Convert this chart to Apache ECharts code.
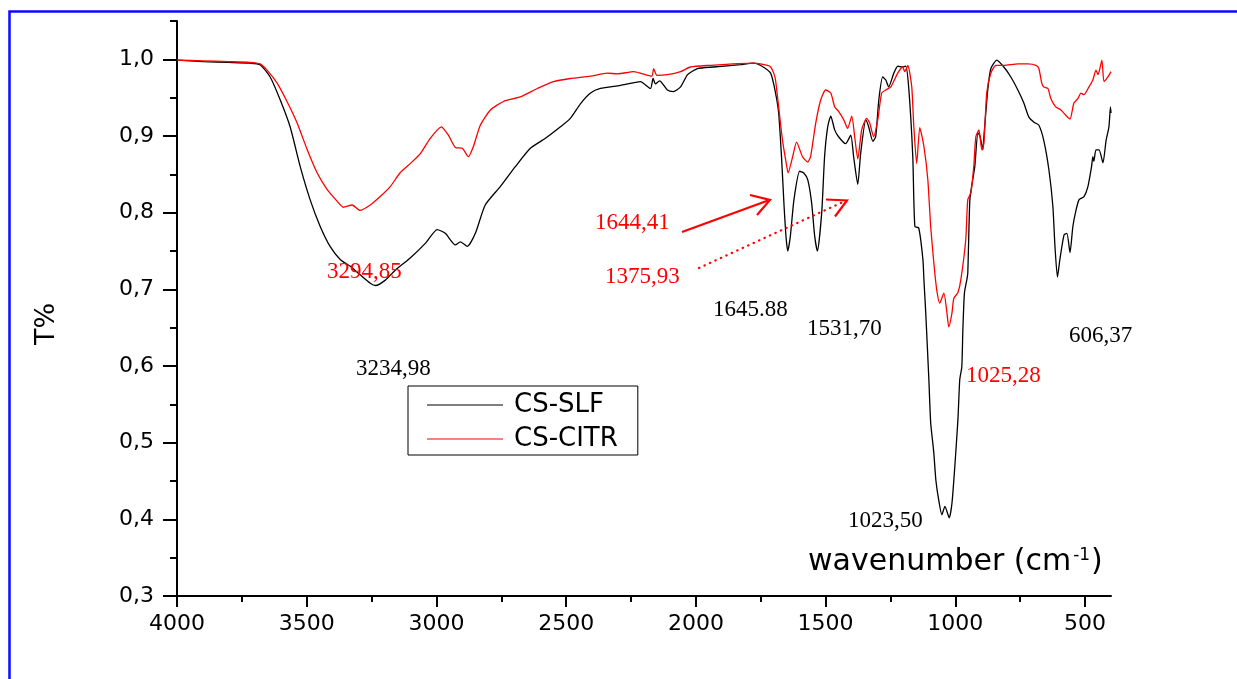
<!DOCTYPE html>
<html>
<head>
<meta charset="utf-8">
<script src="https://cdn.jsdelivr.net/npm/echarts@6/dist/echarts.min.js"></script>
<style>
  html, body { margin: 0; padding: 0; background: #fff; }
  #chart { width: 1237px; height: 679px; }
</style>
</head>
<body>
<div id="chart"></div>
<script>
// FTIR transmittance spectra, wavenumber (cm-1) vs T
const slfWavenumber = [4000, 3900, 3800, 3720, 3680, 3641, 3602, 3564, 3525, 3487, 3448, 3410, 3371, 3332, 3294, 3255, 3234.98, 3197, 3159, 3101, 3043, 2997, 2966, 2927, 2908, 2881, 2850, 2812, 2754, 2696, 2638, 2580, 2522, 2484, 2445, 2406, 2368, 2291, 2214, 2175, 2165, 2156, 2140, 2110, 2087, 2059, 2032, 1994, 1932, 1828, 1778, 1750, 1712, 1693, 1681, 1670, 1660, 1652, 1645.88, 1636, 1622, 1600, 1585, 1569, 1554, 1542, 1531.70, 1515, 1504, 1492, 1480, 1465, 1450, 1423, 1403, 1392, 1376, 1365, 1345, 1334, 1318, 1307, 1295, 1280, 1268, 1257, 1237, 1222, 1203, 1191, 1179, 1164, 1156, 1141, 1125, 1121, 1114, 1102, 1095, 1083, 1075, 1064, 1052, 1040, 1023.50, 1013, 1002, 990, 983, 975, 971, 965, 956, 952, 944, 933, 925, 913, 905, 894, 890, 875, 863, 840, 813, 786, 759, 736, 717, 697, 678, 659, 639, 624, 616, 606.37, 597, 581, 570, 558, 547, 535, 523, 504, 489, 475, 470, 466, 458, 446, 431, 419, 408, 402, 400];
const slfT = [0.999, 0.997, 0.996, 0.995, 0.993, 0.977, 0.947, 0.912, 0.860, 0.817, 0.782, 0.756, 0.739, 0.730, 0.719, 0.708, 0.705, 0.712, 0.725, 0.741, 0.760, 0.778, 0.773, 0.758, 0.762, 0.756, 0.773, 0.810, 0.834, 0.860, 0.884, 0.897, 0.912, 0.923, 0.942, 0.956, 0.962, 0.966, 0.971, 0.962, 0.975, 0.968, 0.972, 0.960, 0.958, 0.964, 0.980, 0.988, 0.990, 0.993, 0.995, 0.992, 0.982, 0.956, 0.930, 0.873, 0.808, 0.766, 0.750, 0.769, 0.817, 0.854, 0.852, 0.843, 0.813, 0.769, 0.750, 0.800, 0.873, 0.912, 0.926, 0.908, 0.899, 0.890, 0.901, 0.873, 0.837, 0.877, 0.921, 0.912, 0.893, 0.899, 0.947, 0.977, 0.973, 0.964, 0.982, 0.991, 0.990, 0.991, 0.960, 0.873, 0.782, 0.780, 0.739, 0.712, 0.669, 0.582, 0.526, 0.487, 0.451, 0.425, 0.406, 0.417, 0.402, 0.421, 0.469, 0.530, 0.582, 0.599, 0.647, 0.695, 0.712, 0.721, 0.817, 0.843, 0.860, 0.904, 0.900, 0.882, 0.899, 0.960, 0.988, 0.999, 0.990, 0.977, 0.960, 0.943, 0.925, 0.918, 0.914, 0.894, 0.855, 0.808, 0.756, 0.716, 0.739, 0.771, 0.773, 0.748, 0.782, 0.803, 0.817, 0.821, 0.834, 0.860, 0.873, 0.867, 0.882, 0.882, 0.865, 0.894, 0.912, 0.938, 0.930];

const citrWavenumber = [4000, 3900, 3800, 3720, 3680, 3653, 3614, 3576, 3537, 3498, 3460, 3421, 3383, 3359, 3325, 3294.85, 3255, 3217, 3178, 3140, 3101, 3062, 3024, 2981, 2954, 2927, 2900, 2877, 2858, 2831, 2792, 2742, 2677, 2611, 2549, 2484, 2406, 2341, 2302, 2240, 2170, 2163, 2150, 2110, 2059, 2021, 1955, 1778, 1724, 1712, 1700, 1693, 1681, 1666, 1654, 1644.41, 1627, 1612, 1589, 1569, 1558, 1538, 1519, 1500, 1480, 1465, 1450, 1430, 1415, 1399, 1388, 1375.93, 1361, 1342, 1330, 1315, 1299, 1284, 1268, 1249, 1222, 1203, 1195, 1183, 1168, 1160, 1149, 1137, 1121, 1106, 1095, 1083, 1072, 1060, 1044, 1033, 1025.28, 1013, 1006, 990, 979, 960, 952, 940, 929, 921, 909, 898, 890, 879, 863, 844, 813, 759, 720, 689, 678, 667, 659, 643, 632, 613, 593, 574, 558, 543, 527, 516, 504, 485, 470, 458, 450, 435, 427, 412, 400];
const citrT = [0.999, 0.998, 0.997, 0.996, 0.994, 0.986, 0.969, 0.945, 0.917, 0.882, 0.852, 0.830, 0.815, 0.807, 0.810, 0.803, 0.810, 0.821, 0.834, 0.852, 0.864, 0.877, 0.897, 0.912, 0.901, 0.885, 0.884, 0.873, 0.886, 0.914, 0.934, 0.945, 0.951, 0.962, 0.971, 0.975, 0.978, 0.982, 0.981, 0.984, 0.978, 0.988, 0.979, 0.980, 0.984, 0.990, 0.992, 0.995, 0.992, 0.990, 0.982, 0.973, 0.938, 0.894, 0.869, 0.852, 0.873, 0.892, 0.873, 0.866, 0.873, 0.917, 0.947, 0.960, 0.956, 0.938, 0.932, 0.921, 0.910, 0.926, 0.899, 0.870, 0.908, 0.923, 0.917, 0.899, 0.921, 0.956, 0.960, 0.964, 0.982, 0.990, 0.984, 0.992, 0.964, 0.912, 0.864, 0.911, 0.886, 0.843, 0.782, 0.735, 0.700, 0.682, 0.695, 0.671, 0.651, 0.669, 0.688, 0.696, 0.712, 0.764, 0.817, 0.826, 0.860, 0.899, 0.908, 0.882, 0.890, 0.956, 0.982, 0.992, 0.992, 0.994, 0.994, 0.992, 0.988, 0.969, 0.964, 0.962, 0.949, 0.938, 0.934, 0.927, 0.922, 0.943, 0.949, 0.956, 0.954, 0.964, 0.973, 0.986, 0.980, 0.999, 0.971, 0.977, 0.984];

// Axis ticks
const xMajorTicks = [500, 1000, 1500, 2000, 2500, 3000, 3500, 4000];
const xMinorTicks = [750, 1250, 1750, 2250, 2750, 3250, 3750];
const yMajorTicks = [0.3, 0.4, 0.5, 0.6, 0.7, 0.8, 0.9, 1.0];
const yMinorTicks = [0.35, 0.45, 0.55, 0.65, 0.75, 0.85, 0.95, 1.05];

const seriesNames = ['CS-SLF', 'CS-CITR'];

const pairs = (xs, ys) => xs.map((x, i) => [x, ys[i]]);

const SANS = '"DejaVu Sans", "Liberation Sans", sans-serif';
const SERIF = '"Liberation Serif", "Times New Roman", serif';

const chart = echarts.init(document.getElementById('chart'), null, { renderer: 'canvas' });

const xBase = { type: 'value', min: 400, max: 4000, inverse: true, position: 'bottom', splitLine: { show: false } };
const yBase = { type: 'value', min: 0.3, max: 1.05, position: 'left', splitLine: { show: false } };

function peakLabel(text, x, y, color) {
  return {
    type: 'text', x: x, y: y, z: 50,
    style: { text: text, fill: color, font: '23px ' + SERIF, textAlign: 'left', textVerticalAlign: 'middle' }
  };
}

chart.setOption({
  animation: false,
  backgroundColor: '#fff',
  grid: { left: 177, top: 21, right: 126, bottom: 83, containLabel: false },
  xAxis: [
    Object.assign({}, xBase, {
      axisLine: { show: true, lineStyle: { color: '#000', width: 2 } },
      axisTick: { show: true, length: 11, customValues: xMajorTicks, lineStyle: { color: '#000', width: 2 } },
      axisLabel: { show: true, customValues: xMajorTicks, margin: 17, color: '#000', fontFamily: SANS, fontSize: 22,
        formatter: v => String(Math.round(v)) }
    }),
    Object.assign({}, xBase, {
      axisLine: { show: false },
      axisTick: { show: true, length: 6, customValues: xMinorTicks, lineStyle: { color: '#000', width: 2 } },
      axisLabel: { show: false }
    })
  ],
  yAxis: [
    Object.assign({}, yBase, {
      axisLine: { show: true, lineStyle: { color: '#000', width: 2 } },
      axisTick: { show: true, length: 14, customValues: yMajorTicks, lineStyle: { color: '#000', width: 2 } },
      axisLabel: { show: true, customValues: yMajorTicks, margin: 23, color: '#000', fontFamily: SANS, fontSize: 22,
        formatter: v => v.toFixed(1).replace('.', ',') }
    }),
    Object.assign({}, yBase, {
      axisLine: { show: false },
      axisTick: { show: true, length: 7, customValues: yMinorTicks, lineStyle: { color: '#000', width: 2 } },
      axisLabel: { show: false }
    })
  ],
  legend: {
    data: seriesNames,
    orient: 'vertical',
    left: 408, top: 386,
    padding: [6, 20, 3, 19],
    itemGap: 8,
    icon: 'rect',
    itemWidth: 76, itemHeight: 1.2,
    borderColor: '#000', borderWidth: 1,
    textStyle: { fontFamily: SANS, fontSize: 26, color: '#000', padding: [0, 0, 0, 6] }
  },
  series: [
    {
      name: seriesNames[0], type: 'line', xAxisIndex: 0, yAxisIndex: 0,
      data: pairs(slfWavenumber, slfT),
      symbol: 'none', smooth: 0.2,
      lineStyle: { color: '#000', width: 1.3 }, itemStyle: { color: '#000' }
    },
    {
      name: seriesNames[1], type: 'line', xAxisIndex: 0, yAxisIndex: 0,
      data: pairs(citrWavenumber, citrT),
      symbol: 'none', smooth: 0.2,
      lineStyle: { color: '#ff0000', width: 1.3 }, itemStyle: { color: '#ff0000' }
    }
  ],
  graphic: [
    // outer frame
    { type: 'rect', shape: { x: 9.5, y: 11.5, width: 1400, height: 1000 }, style: { fill: null, stroke: '#0a0aff', lineWidth: 2.5 }, silent: true },
    // y axis title
    { type: 'text', x: 47, y: 324, rotation: Math.PI / 2,
      style: { text: 'T%', fill: '#000', font: '27px ' + SANS, textAlign: 'center', textVerticalAlign: 'middle' } },
    // x axis title with superscript
    { type: 'text', x: 808, y: 562,
      style: {
        text: '{a|wavenumber (cm}{s|-1}{a|)}',
        textVerticalAlign: 'middle', textAlign: 'left',
        rich: {
          a: { fontFamily: SANS, fontSize: 30, fill: '#000', color: '#000' },
          s: { fontFamily: SANS, fontSize: 17, fill: '#000', color: '#000', verticalAlign: 'top', padding: [0, 1, 0, 2] }
        }
      } },
    // peak labels
    peakLabel('3294,85', 327, 272, '#ff0000'),
    peakLabel('3234,98', 356, 369, '#000'),
    peakLabel('1644,41', 595, 223, '#ff0000'),
    peakLabel('1375,93', 605, 277, '#ff0000'),
    peakLabel('1645.88', 713, 310, '#000'),
    peakLabel('1531,70', 807, 329, '#000'),
    peakLabel('606,37', 1069, 336, '#000'),
    peakLabel('1025,28', 966, 376, '#ff0000'),
    peakLabel('1023,50', 848, 521, '#000'),
    // solid arrow
    { type: 'line', shape: { x1: 682, y1: 232, x2: 768, y2: 200.5 }, style: { stroke: '#ff0000', lineWidth: 2.2 }, z: 50 },
    { type: 'polyline', shape: { points: [[750, 195], [770, 200], [757, 215]] }, style: { stroke: '#ff0000', lineWidth: 2.2, fill: null }, z: 50 },
    // dotted arrow
    { type: 'line', shape: { x1: 699, y1: 268, x2: 843, y2: 202 }, style: { stroke: '#ff0000', lineWidth: 2.2, lineDash: [0.5, 5.5], lineCap: 'round' }, z: 50 },
    { type: 'polyline', shape: { points: [[826, 199.5], [847, 200.5], [835, 216.5]] }, style: { stroke: '#ff0000', lineWidth: 2.2, fill: null }, z: 50 }
  ]
});
</script>
</body>
</html>
